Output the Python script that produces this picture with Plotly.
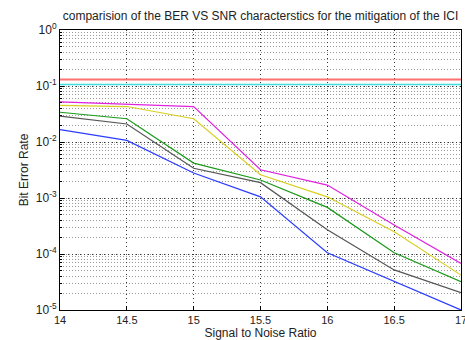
import plotly.graph_objects as go

snr = [14, 14.5, 15, 15.5, 16, 16.5, 17]
ber_red = [0.13] * 7
ber_cyan = [0.106] * 7
ber_magenta = [0.052, 0.047, 0.043, 0.0032, 0.0017, 0.00033, 0.000068]
ber_yellow = [0.045, 0.043, 0.026, 0.0026, 0.00105, 0.00025, 0.000042]
ber_green = [0.034, 0.026, 0.0042, 0.0021, 0.00068, 0.000105, 0.000032]
ber_black = [0.029, 0.021, 0.0034, 0.00188, 0.00027, 0.000052, 0.0000204]
ber_blue = [0.0166, 0.0107, 0.0028, 0.00105, 0.000105, 0.000032, 0.00001]

series = [
    (ber_red, "#ff7070", 2),
    (ber_cyan, "#40dede", 1.5),
    (ber_magenta, "#e020e0", 1.2),
    (ber_yellow, "#d8d020", 1.2),
    (ber_green, "#1a9a1a", 1.2),
    (ber_black, "#555555", 1.2),
    (ber_blue, "#2a3cff", 1.2),
]

ytick_vals = [1, 0.1, 0.01, 0.001, 0.0001, 0.00001]
ytick_text = ["10<sup>0</sup>", "10<sup>-1</sup>", "10<sup>-2</sup>", "10<sup>-3</sup>",
              "10<sup>-4</sup>", "10<sup>-5</sup>"]
xtick_vals = [14, 14.5, 15, 15.5, 16, 16.5, 17]
xtick_text = ["14", "14.5", "15", "15.5", "16", "16.5", "17"]

fig = go.Figure()
for ys, col, w in series:
    fig.add_trace(go.Scatter(x=snr, y=ys, mode="lines", line=dict(color=col, width=w),
                             showlegend=False, cliponaxis=False))

fig.update_layout(
    width=465, height=340,
    margin=dict(l=60, r=4, t=30, b=30, autoexpand=False),
    paper_bgcolor="white", plot_bgcolor="white",
    font=dict(family="Liberation Sans, Arial", size=11, color="#222222"),
    title=dict(text="comparision of the BER VS SNR characterstics for the mitigation of the ICI",
               x=0.5, xanchor="center", xref="paper", y=1 - 16 / 340, yanchor="middle",
               font=dict(size=12)),
)
fig.update_xaxes(
    range=[14, 17], tickvals=xtick_vals, ticktext=xtick_text, automargin=False,
    ticklabeloverflow="allow", tickfont=dict(size=11),
    showgrid=True, gridcolor="#333333", griddash="1px,3px", gridwidth=1,
    showline=True, linecolor="black", linewidth=1, mirror=True,
    ticks="inside", ticklen=4, tickcolor="black", zeroline=False,
    title=dict(text="Signal to Noise Ratio", standoff=1, font=dict(size=12)),
)
fig.update_yaxes(
    type="log", range=[-5, 0], tickvals=ytick_vals, ticktext=ytick_text, automargin=False,
    ticklabeloverflow="allow", tickfont=dict(size=12),
    showgrid=True, gridcolor="#333333", griddash="1px,3px", gridwidth=1,
    minor=dict(showgrid=True, gridcolor="#999999", griddash="1px,2px", gridwidth=1,
               dtick="D1", ticks="inside", ticklen=2, tickcolor="black"),
    showline=True, linecolor="black", linewidth=1, mirror=True,
    ticks="inside", ticklen=4, tickcolor="black", zeroline=False,
    title=dict(text="Bit Error Rate", standoff=4, font=dict(size=12)),
)

fig.write_html("out.html", config={"displayModeBar": False},
               post_script="document.body.style.margin='0';document.body.style.overflow='hidden';")
